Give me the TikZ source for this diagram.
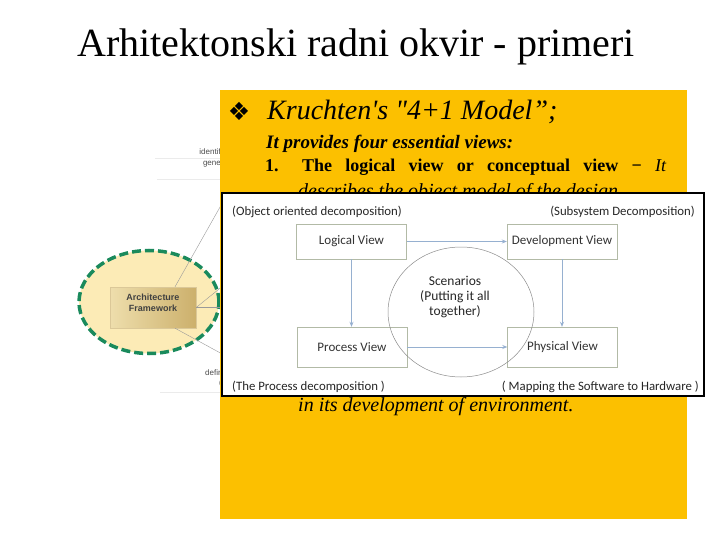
\documentclass[tikz,border=0pt]{standalone}
\usepackage{fontspec}
\setmainfont{Liberation Serif}
\newfontfamily\calibri{Carlito}
\newfontfamily\arial{Liberation Sans}
\newfontfamily\simbolo{DejaVu Sans}
\usetikzlibrary{arrows.meta,shapes.geometric}
\definecolor{laranja}{RGB}{252,192,0}
\definecolor{verdetraco}{RGB}{26,138,92}
\definecolor{creme}{RGB}{252,235,182}
\definecolor{tanclaro}{RGB}{238,222,172}
\definecolor{tanescuro}{RGB}{204,176,108}
\definecolor{cinzaverde}{RGB}{178,186,166}
\definecolor{azul}{RGB}{150,176,208}

\begin{document}
\begin{tikzpicture}[x=1pt, y=-1pt,
  vista/.style={draw=cinzaverde, fill=white, minimum width=110pt, minimum height=#1,
                inner sep=0pt, font=\calibri\fontsize{13}{15}\selectfont, text=black!80},
  vista/.default=36pt,
  seta/.style={-{Stealth[length=5pt,width=4pt]}, draw=azul, line width=0.7pt},
  nota/.style={font=\calibri\fontsize{12.8}{15}\selectfont, text=black!85, inner sep=0pt},
  fio/.style={draw=black!40, line width=0.4pt},
  trecho/.style={font=\arial\fontsize{8}{9}\selectfont, text=black!70, inner sep=0pt},
  texto/.style={inner sep=0pt, anchor=base west},
]
\useasboundingbox[fill=white] (0,0) rectangle (720,540);

% ---- Titulo
\node[font=\fontsize{40}{44}\selectfont, inner sep=0pt, anchor=base] (titulo) at (356,57)
  {Arhitektonski radni okvir - primeri};

% ---- Diagrama ao fundo (esquerda)
\draw[black!8] (155,158) -- (222,158);
\draw[black!8] (157,179) -- (222,179);
\node[trecho, anchor=base east] (ident) at (221,155) {identif};
\node[trecho, anchor=base east] (gene) at (221,166) {gene};
\node[ellipse, fill=creme, draw=verdetraco, line width=3.5pt, dash pattern=on 9pt off 4pt,
      minimum width=140pt, minimum height=103pt, inner sep=0pt] (anel) at (149,302) {};
\node[draw=tanescuro!70, shading=axis, shading angle=-60, left color=tanclaro, right color=tanescuro,
      minimum width=86pt, minimum height=41pt, inner sep=0pt] (marco) at (153,307.5) {};
\node[font=\arial\bfseries\fontsize{9}{11}\selectfont, text=black!75, align=center, inner sep=0pt]
  (marcotxt) at (153,302.5) {Architecture\\Framework};
\coordinate (c1) at (224,200);
\coordinate (c2) at (224,285);
\coordinate (c3) at (224,307.5);
\coordinate (c4) at (224,355);
\draw[fio] ([xshift=22pt]marco.north) -- (c1);
\draw[fio] (marco.east) -- (c2);
\draw[fio] (marco.east) -- (c3);
\draw[fio] ([xshift=22pt]marco.south) -- (c4);
\node[trecho, anchor=base east] (defin) at (221,375) {defir};
\node[trecho, anchor=base east] (paren) at (222,385) {(};
\draw[black!8] (160,392) -- (222,392);

% ---- Caixa laranja com o texto
\fill[laranja] (220,90) rectangle (687,519);
\node[font=\simbolo\fontsize{25}{26}\selectfont, inner sep=0pt] (marca) at (239,111) {❖};
\node[texto, font=\itshape\fontsize{28}{30}\selectfont] (modelo) at (267,120)
  {Kruchten\textquotesingle s \textquotedbl 4+1 Model”;};
\node[texto, font=\bfseries\itshape\fontsize{19}{21}\selectfont] (quatro) at (266,149)
  {It provides four essential views:};
\node[texto, font=\bfseries\fontsize{18}{21}\selectfont] (num) at (265,172) {1.};
\node[texto, font=\fontsize{18}{21}\selectfont] (logica) at (302,172)
  {\makebox[364pt][s]{\bfseries The logical view or conceptual view − \mdseries\itshape It}};
\node[texto, font=\itshape\fontsize{20}{22}\selectfont] (descr) at (298,197)
  {describes the object model of the design.};
\node[texto, font=\itshape\fontsize{20}{22}\selectfont] (amb) at (298,411)
  {in its development of environment.};

% ---- Quadro branco: modelo 4+1
\draw[black, line width=1.8pt, fill=white] (222,193) rectangle (704,396);
\node[nota, anchor=base west] (objeto) at (232,215) {(Object oriented decomposition)};
\node[nota, anchor=base east] (subsis) at (695,215) {(Subsystem Decomposition)};
\node[nota, anchor=base west] (proc) at (232,390) {(The Process decomposition )};
\node[nota, anchor=base east] (mapa) at (699,390) {( Mapping the Software to Hardware )};

\node[vista=35pt] (logico) at (351.5,241.5) {Logical View};
\node[vista=35pt] (desenv) at (562,241.5) {Development View};
\node[vista=40pt] (processo) at (352,347) {Process View};
\node[vista=40pt] (fisico) at (562.5,347) {Physical View};

\draw[seta] (logico) -- (desenv);
\draw[seta] (processo) -- (fisico);
\draw[seta] (logico.south) -- (logico.south |- processo.north);
\draw[seta] (desenv.south) -- (desenv.south |- fisico.north);

\node[ellipse, draw=black!45, line width=0.5pt, minimum width=146pt, minimum height=130pt,
      inner sep=0pt] (cenarios) at (461,312) {};
\node[nota, align=center, font=\calibri\fontsize{13.5}{15}\selectfont] (cenariostxt) at (455,297)
  {Scenarios\\(Putting it all\\together)};
\end{tikzpicture}
\end{document}
